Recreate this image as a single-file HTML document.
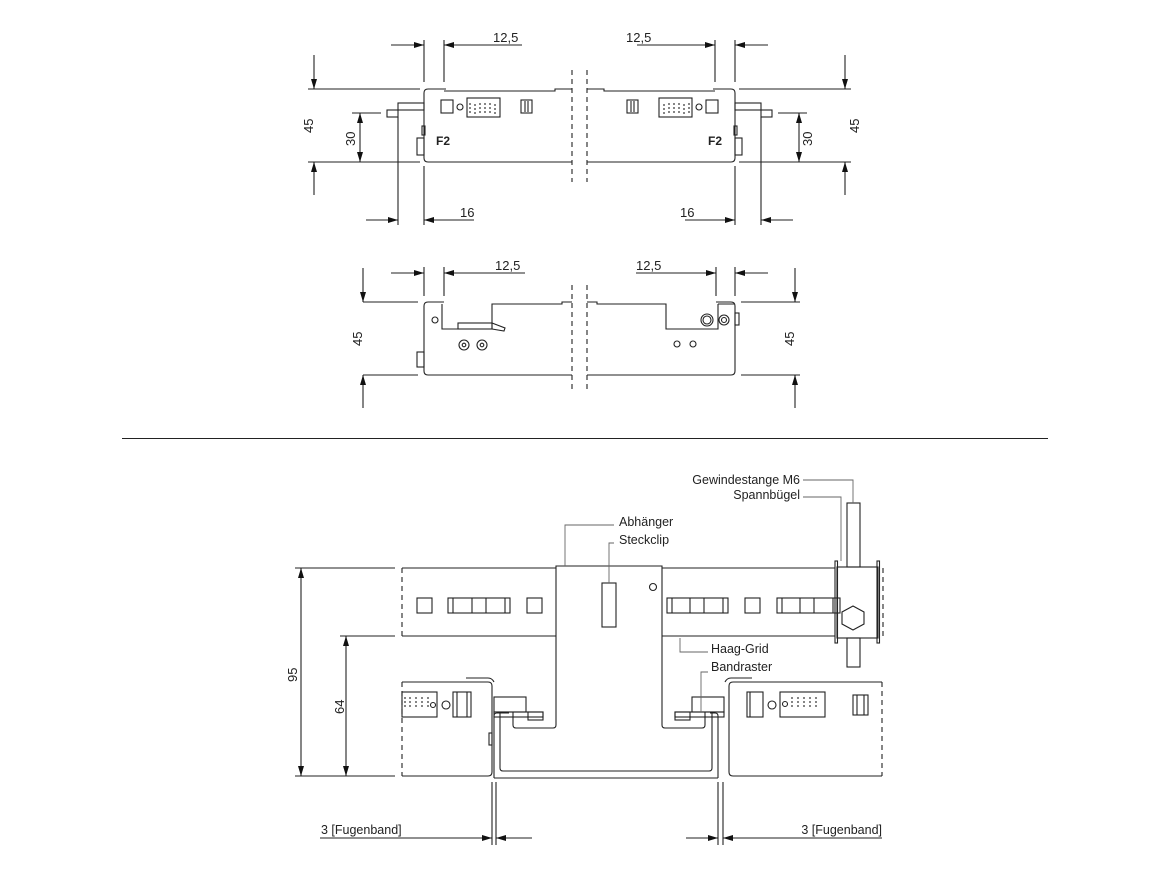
<!DOCTYPE html>
<html><head><meta charset="utf-8"><style>
html,body{margin:0;padding:0;background:#fff;}
svg{display:block;}
text{font-family:"Liberation Sans",sans-serif;fill:#222;}
</style></head><body>
<svg width="1170" height="878" viewBox="0 0 1170 878" xmlns="http://www.w3.org/2000/svg">
<defs>
<marker id="a" viewBox="0 0 10 6" refX="10" refY="3" markerWidth="10" markerHeight="6" markerUnits="userSpaceOnUse" orient="auto"><path d="M0,0 L10,3 L0,6z" fill="#111"/></marker>
<g id="topL" fill="none" stroke="#222" stroke-width="1.1">
  <!-- panel -->
  <path d="M446,89 H428 Q424,89 424,93 V158 Q424,162 428,162 H572"/>
  <path d="M444,91 H555 V89 H572"/>
  <line x1="572" y1="70" x2="572" y2="182" stroke-dasharray="5,4"/>
  <rect x="441" y="100" width="12" height="13"/>
  <circle cx="460" cy="107" r="3"/>
  <rect x="467" y="98" width="33" height="19"/>
  <path d="M470,103 v10 M475,104 v10 M480,103 v10 M485,103 v10 M490,103 v10 M495,104 v10" stroke-dasharray="2,2"/>
  <rect x="521" y="100" width="11" height="13"/>
  <path d="M525,101v11 M528,101v11"/>
  <rect x="398" y="103" width="26" height="7"/>
  <rect x="387" y="110" width="11" height="7"/>
  <rect x="417" y="138" width="7" height="17"/>
  <rect x="422" y="126" width="3" height="9"/>
  <!-- dims -->
  <path d="M308,89 H420 M308,162 H420 M352,113 H381 M424,40 V82 M444,40 V82 M398,117 V225 M424,166 V225"/>
  <line x1="314" y1="55" x2="314" y2="89" marker-end="url(#a)"/>
  <line x1="314" y1="195" x2="314" y2="162" marker-end="url(#a)"/>
  <line x1="360" y1="138" x2="360" y2="113" marker-end="url(#a)"/>
  <line x1="360" y1="138" x2="360" y2="162" marker-end="url(#a)"/>
  <line x1="391" y1="45" x2="424" y2="45" marker-end="url(#a)"/>
  <line x1="522" y1="45" x2="444" y2="45" marker-end="url(#a)"/>
  <line x1="366" y1="220" x2="398" y2="220" marker-end="url(#a)"/>
  <line x1="474" y1="220" x2="424" y2="220" marker-end="url(#a)"/>
</g>
<g id="midL" fill="none" stroke="#222" stroke-width="1.1">
  <path d="M444,302 H428 Q424,302 424,306 V371 Q424,375 428,375 H572"/>
  <path d="M442,304 V329 H492 V304 H562 V302 H572"/>
  <line x1="572" y1="285" x2="572" y2="392" stroke-dasharray="5,4"/>
  <circle cx="435" cy="320" r="3"/>
  <rect x="458" y="323" width="34" height="6"/>
  <path d="M492,323 L505,328 L504,331 L492,329"/>
  <circle cx="464" cy="345" r="5"/><circle cx="464" cy="345" r="1.8"/>
  <circle cx="482" cy="345" r="5"/><circle cx="482" cy="345" r="1.8"/>
  <rect x="417" y="352" width="7" height="15"/>
  <path d="M363,302 H418 M363,375 H418 M424,267 V296 M444,267 V296"/>
  <line x1="363" y1="268" x2="363" y2="302" marker-end="url(#a)"/>
  <line x1="363" y1="408" x2="363" y2="375" marker-end="url(#a)"/>
  <line x1="391" y1="273" x2="424" y2="273" marker-end="url(#a)"/>
  <line x1="525" y1="273" x2="444" y2="273" marker-end="url(#a)"/>
</g>
</defs>
<use href="#topL"/>
<use href="#topL" transform="translate(1159,0) scale(-1,1)"/>
<!-- mid left -->
<use href="#midL"/>
<!-- mid right -->
<g fill="none" stroke="#222" stroke-width="1.1">
  <path d="M716,302 H731 Q735,302 735,306 V371 Q735,375 731,375 H587"/>
  <path d="M587,302 H597 V304 H666 V329 H718 V304"/>
  <path d="M718,304 H735"/>
  <line x1="587" y1="285" x2="587" y2="392" stroke-dasharray="5,4"/>
  <circle cx="707" cy="320" r="6"/><circle cx="707" cy="320" r="4"/>
  <circle cx="724" cy="320" r="5"/><circle cx="724" cy="320" r="2.5"/>
  <rect x="735" y="313" width="4" height="12"/>
  <circle cx="677" cy="344" r="3"/><circle cx="693" cy="344" r="3"/>
  <path d="M741,302 H800 M741,375 H800 M716,267 V296 M735,267 V296"/>
  <line x1="795" y1="268" x2="795" y2="302" marker-end="url(#a)"/>
  <line x1="795" y1="408" x2="795" y2="375" marker-end="url(#a)"/>
  <line x1="636" y1="273" x2="716" y2="273" marker-end="url(#a)"/>
  <line x1="768" y1="273" x2="735" y2="273" marker-end="url(#a)"/>
</g>
<!-- top texts -->
<g font-size="13">
  <text x="493" y="42">12,5</text>
  <text x="626" y="42">12,5</text>
  <text x="460" y="217">16</text>
  <text x="680" y="217">16</text>
  <text x="436" y="145" font-weight="bold" font-size="12">F2</text>
  <text x="708" y="145" font-weight="bold" font-size="12">F2</text>
  <text transform="translate(313,133) rotate(-90)">45</text>
  <text transform="translate(355,146) rotate(-90)">30</text>
  <text transform="translate(812,146) rotate(-90)">30</text>
  <text transform="translate(859,133) rotate(-90)">45</text>
  <text x="495" y="270">12,5</text>
  <text x="636" y="270">12,5</text>
  <text transform="translate(362,346) rotate(-90)">45</text>
  <text transform="translate(794,346) rotate(-90)">45</text>
</g>
<line x1="122" y1="438.5" x2="1048" y2="438.5" stroke="#222" stroke-width="1"/>
<!-- bottom -->
<g fill="none" stroke="#222" stroke-width="1.1">
  <path d="M402,568 H556 M662,568 H835 M402,636 H556 M662,636 H835"/>
  <line x1="402" y1="568" x2="402" y2="636" stroke-dasharray="5,4"/>
  <line x1="883" y1="568" x2="883" y2="636" stroke-dasharray="5,4"/>
  <rect x="417" y="598" width="15" height="15"/>
  <rect x="448" y="598" width="62" height="15"/><path d="M453,598v15 M472,598v15 M486,598v15 M505,598v15"/>
  <rect x="527" y="598" width="15" height="15"/>
  <rect x="667" y="598" width="61" height="15"/><path d="M672,598v15 M690,598v15 M704,598v15 M723,598v15"/>
  <rect x="745" y="598" width="15" height="15"/>
  <rect x="777" y="598" width="63" height="15"/><path d="M782,598v15 M800,598v15 M814,598v15 M833,598v15"/>
  <!-- Abhänger -->
  <path d="M513,712 V725 Q513,728 516,728 H553 Q556,728 556,725 V566 H662 V725 Q662,728 665,728 H702 Q705,728 705,725 V712"/>
  <rect x="602" y="583" width="14" height="44"/>
  <circle cx="653" cy="587" r="3.5"/>
  <!-- Spannbügel -->
  <rect x="837" y="567" width="41" height="71"/>
  <rect x="835" y="561" width="2.5" height="82"/>
  <rect x="877" y="561" width="2.5" height="82"/>
  <rect x="847" y="503" width="13" height="64"/>
  <rect x="847" y="638" width="13" height="29"/>
  <polygon points="853,606 864,612 864,624 853,630 842,624 842,612"/>
  <!-- lower panels -->
  <path d="M402,682 H488 Q492,682 492,686 V772 Q492,776 488,776 H402"/>
  <line x1="402" y1="682" x2="402" y2="776" stroke-dasharray="5,4"/>
  <path d="M466,678 H488 Q492,678 494,682"/>
  <path d="M882,682 H733 Q729,682 729,686 V772 Q729,776 733,776 H882"/>
  <line x1="882" y1="682" x2="882" y2="776" stroke-dasharray="5,4"/>
  <path d="M752,678 H731 Q727,678 725,682"/>
  <rect x="489" y="733" width="3" height="12"/>
  <!-- U channel -->
  <path d="M494,778 V716 Q494,713 497,713 H509 M718,778 V716 Q718,713 715,713 H710"/>
  <path d="M494,778 H718"/>
  <path d="M500,713 V768 Q500,771 503,771 H709 Q712,771 712,768 V713"/>
  <!-- plates -->
  <rect x="494" y="697" width="32" height="15"/>
  <rect x="494" y="712" width="49" height="5"/>
  <rect x="528" y="712" width="15" height="8"/>
  <rect x="692" y="697" width="32" height="15"/>
  <rect x="675" y="712" width="49" height="5"/>
  <rect x="675" y="712" width="15" height="8"/>
  <!-- panel content -->
  <rect x="402" y="692" width="35" height="25"/>
  <path d="M405,697v12 M410,697v12 M416,697v12 M422,697v12 M428,697v12" stroke-dasharray="2,2"/>
  <circle cx="433" cy="705" r="2.5"/>
  <circle cx="446" cy="705" r="4"/>
  <rect x="453" y="692" width="18" height="25"/><path d="M457,692v25 M467,692v25"/>
  <rect x="747" y="692" width="16" height="25"/><path d="M750,692v25"/>
  <circle cx="772" cy="705" r="4"/>
  <rect x="780" y="692" width="45" height="25"/>
  <path d="M792,697v12 M798,697v12 M804,697v12 M810,697v12 M816,697v12" stroke-dasharray="2,2"/>
  <circle cx="785" cy="704" r="2.5"/>
  <rect x="853" y="695" width="15" height="20"/><path d="M857,695v20 M864,695v20"/>
  <!-- leaders -->
  <g stroke="#666" stroke-width="0.9">
    <path d="M803,480 H853 V503"/>
    <path d="M803,497 H841 V561"/>
    <path d="M614,525 H565 V566"/>
    <path d="M614,543 H609 V583"/>
    <path d="M680,638 V652 H708"/>
    <path d="M708,672 H701 V712"/>
  </g>
  <!-- dims -->
  <path d="M295,568 H395 M295,776 H395 M340,636 H395"/>
  <path d="M492,782 V845 M496,782 V845 M718,782 V845 M723,782 V845"/>
  <line x1="301" y1="672" x2="301" y2="568" marker-end="url(#a)"/>
  <line x1="301" y1="672" x2="301" y2="776" marker-end="url(#a)"/>
  <line x1="346" y1="706" x2="346" y2="636" marker-end="url(#a)"/>
  <line x1="346" y1="706" x2="346" y2="776" marker-end="url(#a)"/>
  <line x1="320" y1="838" x2="492" y2="838" marker-end="url(#a)"/>
  <line x1="532" y1="838" x2="496" y2="838" marker-end="url(#a)"/>
  <line x1="686" y1="838" x2="718" y2="838" marker-end="url(#a)"/>
  <line x1="882" y1="838" x2="723" y2="838" marker-end="url(#a)"/>
</g>
<g font-size="12.5">
  <text x="800" y="484" text-anchor="end">Gewindestange M6</text>
  <text x="800" y="499" text-anchor="end">Spannbügel</text>
  <text x="619" y="526">Abhänger</text>
  <text x="619" y="544">Steckclip</text>
  <text x="711" y="653">Haag-Grid</text>
  <text x="711" y="671">Bandraster</text>
  <text x="321" y="834">3 [Fugenband]</text>
  <text x="882" y="834" text-anchor="end">3 [Fugenband]</text>
  <text transform="translate(297,682) rotate(-90)" font-size="13">95</text>
  <text transform="translate(344,714) rotate(-90)" font-size="13">64</text>
</g>
</svg>
</body></html>
